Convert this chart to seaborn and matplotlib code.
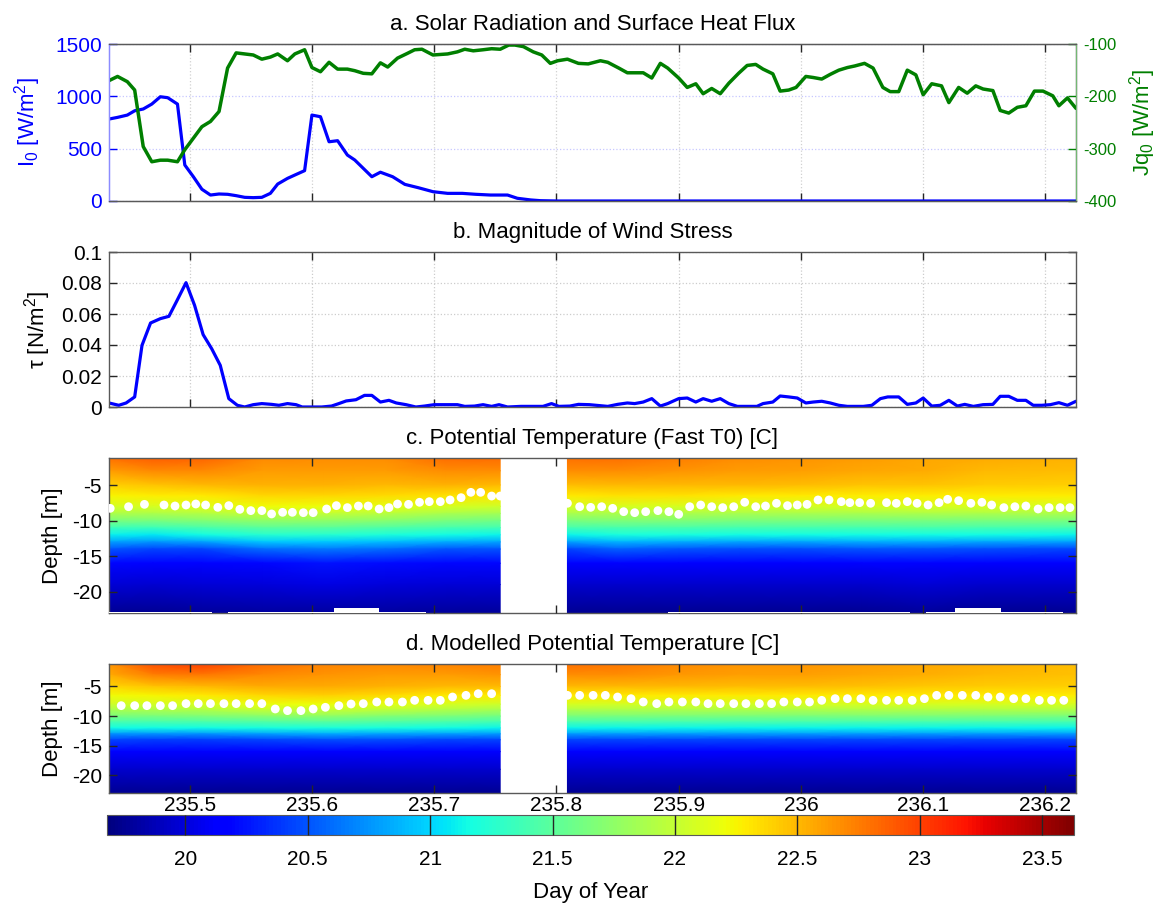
import numpy as np
import matplotlib
matplotlib.use('Agg')
import matplotlib.pyplot as plt
import seaborn as sns

# ---------------- data ----------------
# a. Solar radiation I0 [W/m2]
t_I0 = [235.434, 235.441, 235.449, 235.455, 235.462, 235.469, 235.476, 235.482, 235.490, 235.496,
        235.503, 235.510, 235.517, 235.524, 235.531, 235.538, 235.545, 235.552, 235.559, 235.566,
        235.572, 235.580, 235.586, 235.594, 235.600, 235.607, 235.614, 235.621, 235.629, 235.635,
        235.642, 235.649, 235.656, 235.666, 235.676, 235.687, 235.699, 235.711, 235.723, 235.734,
        235.746, 235.760, 235.768, 235.779, 235.787, 235.801, 236.225]
I0 = [783, 799, 821, 862, 879, 926, 996, 987, 926, 344,
      232, 112, 57, 67, 64, 51, 35, 32, 35, 73,
      162, 216, 248, 290, 821, 805, 566, 576, 439, 392,
      312, 232, 275, 232, 159, 127, 89, 73, 73, 64,
      57, 57, 26, 10, 3, 0, 0]

# a. Surface heat flux Jq0 [W/m2]
t_Jq = [235.434, 235.441, 235.449, 235.455, 235.462, 235.469, 235.476, 235.482, 235.490, 235.496,
        235.503, 235.510, 235.517, 235.524, 235.531, 235.538, 235.545, 235.552, 235.559, 235.566,
        235.572, 235.580, 235.586, 235.594, 235.600, 235.607, 235.614, 235.621, 235.629, 235.635,
        235.642, 235.649, 235.656, 235.662, 235.670, 235.678, 235.684, 235.690, 235.699, 235.711,
        235.719, 235.725, 235.732, 235.740, 235.747, 235.754, 235.761, 235.766, 235.773, 235.781,
        235.788, 235.795, 235.801, 235.809, 235.818, 235.826, 235.836, 235.842, 235.851, 235.858,
        235.871, 235.878, 235.885, 235.891, 235.900, 235.907, 235.914, 235.920, 235.927, 235.934,
        235.941, 235.949, 235.956, 235.963, 235.969, 235.977, 235.983, 235.990, 235.996, 236.004,
        236.010, 236.017, 236.024, 236.031, 236.038, 236.044, 236.052, 236.059, 236.067, 236.073,
        236.080, 236.087, 236.094, 236.100, 236.107, 236.115, 236.121, 236.129, 236.136, 236.143,
        236.149, 236.157, 236.163, 236.170, 236.177, 236.184, 236.191, 236.198, 236.206, 236.211,
        236.218, 236.225]
Jq0 = [-170, -162, -172, -188, -296, -325, -322, -322, -325, -302,
       -280, -258, -248, -229, -146, -117, -119, -121, -129, -125,
       -119, -132, -119, -111, -145, -153, -135, -148, -148, -151,
       -156, -157, -136, -144, -127, -118, -111, -110, -121, -119,
       -115, -110, -113, -111, -109, -110, -102, -102, -105, -115,
       -121, -137, -132, -129, -137, -138, -132, -135, -146, -155,
       -155, -165, -137, -146, -165, -183, -176, -195, -185, -195,
       -175, -156, -141, -139, -148, -157, -190, -188, -183, -162,
       -164, -167, -158, -150, -145, -142, -137, -146, -183, -191,
       -191, -150, -159, -197, -176, -180, -212, -183, -194, -180,
       -186, -189, -227, -232, -221, -218, -190, -190, -199, -218,
       -203, -223]

# b. Wind stress magnitude [N/m2]
t_tau = [235.434, 235.442, 235.448, 235.455, 235.461, 235.468, 235.476, 235.483, 235.489, 235.497,
         235.504, 235.511, 235.518, 235.525, 235.532, 235.539, 235.545, 235.552, 235.559, 235.567,
         235.573, 235.580, 235.587, 235.592, 235.600, 235.608, 235.616, 235.622, 235.628, 235.636,
         235.643, 235.649, 235.656, 235.663, 235.669, 235.677, 235.685, 235.692, 235.700, 235.708,
         235.719, 235.725, 235.733, 235.740, 235.747, 235.753, 235.760, 235.771, 235.783, 235.789,
         235.796, 235.802, 235.811, 235.818, 235.827, 235.842, 235.850, 235.858, 235.864, 235.871,
         235.878, 235.885, 235.891, 235.900, 235.907, 235.914, 235.920, 235.927, 235.934, 235.941,
         235.948, 235.956, 235.964, 235.969, 235.977, 235.983, 235.990, 235.997, 236.004, 236.010,
         236.017, 236.024, 236.031, 236.038, 236.044, 236.051, 236.058, 236.065, 236.071, 236.080,
         236.087, 236.094, 236.100, 236.107, 236.114, 236.121, 236.128, 236.134, 236.141, 236.149,
         236.157, 236.163, 236.170, 236.177, 236.184, 236.190, 236.197, 236.204, 236.211, 236.218,
         236.225]
tau = [0.0026, 0.0011, 0.0026, 0.0065, 0.0398, 0.0542, 0.0570, 0.0585, 0.0677, 0.0802,
       0.0656, 0.0467, 0.0376, 0.0269, 0.0054, 0.0011, 0.0000, 0.0015, 0.0022, 0.0017,
       0.0011, 0.0022, 0.0015, 0.0000, 0.0000, 0.0000, 0.0006, 0.0022, 0.0039, 0.0047,
       0.0075, 0.0075, 0.0032, 0.0043, 0.0026, 0.0015, 0.0000, 0.0006, 0.0015, 0.0015,
       0.0015, 0.0004, 0.0006, 0.0015, 0.0004, 0.0015, 0.0000, 0.0004, 0.0004, 0.0004,
       0.0022, 0.0004, 0.0006, 0.0017, 0.0015, 0.0004, 0.0017, 0.0026, 0.0022, 0.0032,
       0.0054, 0.0006, 0.0022, 0.0054, 0.0058, 0.0032, 0.0054, 0.0037, 0.0054, 0.0022,
       0.0004, 0.0004, 0.0004, 0.0022, 0.0032, 0.0071, 0.0065, 0.0058, 0.0026, 0.0032,
       0.0037, 0.0026, 0.0011, 0.0004, 0.0004, 0.0004, 0.0011, 0.0054, 0.0065, 0.0065,
       0.0017, 0.0026, 0.0058, 0.0006, 0.0011, 0.0043, 0.0006, 0.0017, 0.0004, 0.0015,
       0.0017, 0.0069, 0.0069, 0.0043, 0.0043, 0.0011, 0.0011, 0.0015, 0.0028, 0.0011,
       0.0037]

# c/d. Temperature sections: depth levels [m], two time segments (gap between them)
z_lev = [-1.2, -3, -5, -6.5, -8, -9, -10, -11, -12, -13, -14, -16, -19, -23]
t_seg1 = [235.434, 235.47, 235.51, 235.56, 235.61, 235.66, 235.71, 235.754]
t_seg2 = [235.809, 235.85, 235.90, 235.95, 236.00, 236.05, 236.10, 236.15, 236.225]

# observed (Fast T0) profiles, one list per time (top -> bottom)
obs_seg1 = [
    [22.80, 22.62, 22.40, 22.25, 22.08, 21.90, 21.65, 21.35, 21.10, 20.80, 20.50, 20.20, 19.98, 19.75],
    [22.88, 22.70, 22.45, 22.28, 22.10, 21.90, 21.65, 21.35, 21.08, 20.75, 20.45, 20.18, 19.96, 19.75],
    [22.85, 22.70, 22.50, 22.30, 22.12, 21.92, 21.70, 21.42, 21.15, 20.80, 20.45, 20.18, 19.98, 19.78],
    [22.70, 22.62, 22.52, 22.38, 22.22, 22.00, 21.75, 21.50, 21.25, 20.95, 20.60, 20.20, 20.00, 19.80],
    [22.68, 22.62, 22.52, 22.38, 22.20, 22.00, 21.75, 21.50, 21.25, 20.95, 20.65, 20.25, 20.02, 19.80],
    [22.68, 22.62, 22.50, 22.35, 22.15, 21.95, 21.72, 21.45, 21.20, 20.90, 20.60, 20.22, 20.00, 19.80],
    [22.82, 22.68, 22.52, 22.32, 22.10, 21.88, 21.65, 21.40, 21.15, 20.85, 20.50, 20.20, 19.98, 19.78],
    [22.82, 22.68, 22.50, 22.30, 22.05, 21.85, 21.62, 21.38, 21.12, 20.82, 20.50, 20.20, 19.98, 19.78],
]
obs_seg2 = [
    [22.80, 22.68, 22.48, 22.30, 22.08, 21.88, 21.65, 21.40, 21.12, 20.80, 20.45, 20.15, 19.95, 19.75],
    [22.80, 22.68, 22.50, 22.32, 22.10, 21.90, 21.68, 21.42, 21.18, 20.88, 20.55, 20.18, 19.95, 19.75],
    [22.75, 22.65, 22.50, 22.32, 22.10, 21.90, 21.68, 21.42, 21.18, 20.85, 20.50, 20.15, 19.95, 19.75],
    [22.68, 22.62, 22.50, 22.30, 22.08, 21.88, 21.65, 21.40, 21.15, 20.82, 20.48, 20.15, 19.95, 19.75],
    [22.65, 22.60, 22.48, 22.30, 22.08, 21.88, 21.65, 21.40, 21.15, 20.82, 20.48, 20.15, 19.95, 19.75],
    [22.62, 22.58, 22.45, 22.28, 22.08, 21.88, 21.65, 21.40, 21.15, 20.85, 20.50, 20.18, 19.95, 19.75],
    [22.58, 22.55, 22.45, 22.28, 22.10, 21.90, 21.65, 21.42, 21.15, 20.85, 20.50, 20.18, 19.98, 19.78],
    [22.55, 22.50, 22.42, 22.28, 22.10, 21.90, 21.65, 21.40, 21.15, 20.82, 20.48, 20.15, 19.95, 19.75],
    [22.52, 22.48, 22.40, 22.28, 22.10, 21.90, 21.65, 21.40, 21.12, 20.80, 20.45, 20.15, 19.95, 19.75],
]
# modelled profiles
mod_seg1 = [
    [22.65, 22.55, 22.38, 22.22, 22.05, 21.85, 21.65, 21.40, 21.15, 20.75, 20.45, 20.15, 19.95, 19.75],
    [22.95, 22.75, 22.45, 22.25, 22.08, 21.88, 21.65, 21.40, 21.15, 20.75, 20.42, 20.15, 19.95, 19.75],
    [23.00, 22.78, 22.50, 22.30, 22.10, 21.90, 21.68, 21.42, 21.15, 20.75, 20.42, 20.15, 19.95, 19.75],
    [22.82, 22.70, 22.55, 22.38, 22.18, 21.98, 21.72, 21.45, 21.18, 20.80, 20.45, 20.15, 19.95, 19.75],
    [22.72, 22.65, 22.55, 22.40, 22.20, 22.00, 21.75, 21.48, 21.20, 20.85, 20.48, 20.15, 19.95, 19.75],
    [22.70, 22.62, 22.52, 22.35, 22.15, 21.95, 21.70, 21.45, 21.18, 20.82, 20.47, 20.15, 19.95, 19.75],
    [22.72, 22.62, 22.50, 22.30, 22.10, 21.90, 21.67, 21.42, 21.15, 20.80, 20.45, 20.15, 19.95, 19.75],
    [22.75, 22.65, 22.50, 22.28, 22.05, 21.85, 21.62, 21.38, 21.12, 20.78, 20.45, 20.15, 19.95, 19.75],
]
mod_seg2 = [
    [22.80, 22.68, 22.50, 22.30, 22.10, 21.88, 21.65, 21.40, 21.12, 20.78, 20.45, 20.15, 19.95, 19.75],
    [22.78, 22.68, 22.50, 22.30, 22.08, 21.88, 21.65, 21.40, 21.12, 20.78, 20.45, 20.15, 19.95, 19.75],
    [22.70, 22.64, 22.50, 22.30, 22.08, 21.88, 21.65, 21.40, 21.12, 20.78, 20.45, 20.15, 19.95, 19.75],
    [22.65, 22.60, 22.48, 22.30, 22.08, 21.88, 21.65, 21.40, 21.12, 20.78, 20.45, 20.15, 19.95, 19.75],
    [22.65, 22.60, 22.48, 22.30, 22.08, 21.88, 21.65, 21.40, 21.12, 20.78, 20.45, 20.15, 19.95, 19.75],
    [22.62, 22.58, 22.46, 22.30, 22.10, 21.90, 21.66, 21.40, 21.12, 20.78, 20.45, 20.15, 19.95, 19.75],
    [22.58, 22.54, 22.44, 22.30, 22.10, 21.90, 21.66, 21.40, 21.12, 20.78, 20.45, 20.15, 19.95, 19.75],
    [22.54, 22.50, 22.42, 22.28, 22.10, 21.90, 21.66, 21.40, 21.12, 20.78, 20.45, 20.15, 19.95, 19.75],
    [22.48, 22.46, 22.40, 22.28, 22.10, 21.90, 21.65, 21.40, 21.12, 20.78, 20.45, 20.15, 19.95, 19.75],
]

# missing bottom data in panel c (time spans and deepest valid depth)
c_miss_t0 = [235.434, 235.531, 235.618, 235.655, 235.891, 236.102, 236.126, 236.164]
c_miss_t1 = [235.518, 235.618, 235.655, 235.693, 236.089, 236.126, 236.164, 236.214]
c_miss_z = [-22.8, -22.8, -22.3, -22.8, -22.8, -22.8, -22.3, -22.8]

# mixed-layer depth markers, observed
t_mld_c = [235.435, 235.450, 235.463, 235.479, 235.488, 235.497, 235.505, 235.513, 235.523, 235.532,
           235.541, 235.550, 235.559, 235.567, 235.576, 235.584, 235.593, 235.601, 235.612, 235.620,
           235.629, 235.638, 235.646, 235.655, 235.663, 235.670, 235.679, 235.688, 235.696, 235.705,
           235.713, 235.722, 235.730, 235.738, 235.747, 235.754,
           235.809, 235.819, 235.828, 235.837, 235.846, 235.855, 235.864, 235.873, 235.883, 235.892,
           235.900, 235.909, 235.918, 235.927, 235.936, 235.945, 235.954, 235.963, 235.971, 235.980,
           235.989, 235.997, 236.005, 236.014, 236.023, 236.033, 236.040, 236.048, 236.057, 236.070,
           236.078, 236.087, 236.095, 236.104, 236.113, 236.120, 236.129, 236.139, 236.148, 236.156,
           236.166, 236.175, 236.184, 236.194, 236.203, 236.212, 236.220]
mld_c = [-8.28, -8.05, -7.72, -7.81, -7.95, -7.81, -7.67, -7.81, -8.14, -7.90,
         -8.42, -8.60, -8.60, -9.07, -8.84, -8.84, -8.89, -8.89, -8.37, -7.90,
         -8.18, -7.95, -7.95, -8.37, -8.18, -7.67, -7.72, -7.43, -7.34, -7.34,
         -7.10, -6.78, -6.03, -6.03, -6.55, -6.55,
         -7.57, -8.05, -8.14, -8.05, -8.28, -8.75, -8.89, -8.75, -8.60, -8.75,
         -9.12, -8.05, -7.81, -8.05, -8.18, -8.05, -7.43, -8.05, -7.95, -7.57,
         -7.90, -7.81, -7.72, -7.10, -7.10, -7.34, -7.48, -7.48, -7.57, -7.48,
         -7.57, -7.34, -7.57, -7.81, -7.48, -7.01, -7.20, -7.57, -7.43, -7.81,
         -8.18, -8.05, -7.95, -8.37, -8.18, -8.18, -8.18]

# mixed-layer depth markers, modelled
t_mld_d = [235.444, 235.455, 235.465, 235.476, 235.486, 235.497, 235.507, 235.517, 235.528, 235.538,
           235.549, 235.559, 235.570, 235.580, 235.591, 235.601, 235.611, 235.622, 235.632, 235.642,
           235.653, 235.663, 235.674, 235.684, 235.695, 235.705, 235.715, 235.726, 235.736, 235.747,
           235.809, 235.819, 235.830, 235.840, 235.850, 235.861, 235.871, 235.882, 235.892, 235.903,
           235.914, 235.924, 235.934, 235.945, 235.955, 235.966, 235.976, 235.986, 235.997, 236.007,
           236.017, 236.028, 236.038, 236.049, 236.059, 236.070, 236.080, 236.091, 236.101, 236.111,
           236.121, 236.132, 236.143, 236.153, 236.163, 236.174, 236.184, 236.195, 236.205, 236.215]
mld_d = [-8.24, -8.24, -8.24, -8.24, -8.24, -7.90, -7.90, -7.90, -7.90, -7.90,
         -7.90, -7.90, -8.80, -9.08, -9.08, -8.80, -8.52, -8.24, -7.96, -7.90,
         -7.62, -7.62, -7.62, -7.34, -7.34, -7.34, -6.78, -6.50, -6.22, -6.22,
         -6.50, -6.50, -6.50, -6.50, -6.78, -7.06, -7.62, -7.90, -7.62, -7.62,
         -7.62, -7.90, -7.90, -7.90, -7.90, -7.90, -7.90, -7.62, -7.62, -7.62,
         -7.34, -7.06, -7.06, -7.06, -7.34, -7.34, -7.34, -7.34, -7.06, -6.50,
         -6.50, -6.50, -6.50, -6.78, -6.78, -7.06, -7.06, -7.34, -7.34, -7.34]

x_ticks = [235.5, 235.6, 235.7, 235.8, 235.9, 236.0, 236.1, 236.2]
x_ticklabels = ['235.5', '235.6', '235.7', '235.8', '235.9', '236', '236.1', '236.2']
cb_ticks = [20, 20.5, 21, 21.5, 22, 22.5, 23, 23.5]
cb_ticklabels = ['20', '20.5', '21', '21.5', '22', '22.5', '23', '23.5']
tau_ticks = [0, 0.02, 0.04, 0.06, 0.08, 0.1]
tau_ticklabels = ['0', '0.02', '0.04', '0.06', '0.08', '0.1']
depth_ticks = [-20, -15, -10, -5]
depth_ticklabels = ['-20', '-15', '-10', '-5']
I0_ticks = [0, 500, 1000, 1500]
Jq_ticks = [-400, -300, -200, -100]
Jq_ticklabels = ['-400', '-300', '-200', '-100']

# ---------------- style ----------------
sns.set_style('ticks')
plt.rcParams['font.family'] = ['Liberation Sans', 'DejaVu Sans']
plt.rcParams['mathtext.default'] = 'regular'
plt.rcParams['axes.unicode_minus'] = False
for k in ('text.color', 'axes.labelcolor', 'xtick.color', 'ytick.color'):
    plt.rcParams[k] = 'black'

XLIM = (235.434, 236.225)
ZLIM = (-23, -1.2)
VMIN, VMAX = 19.68, 23.63
BLUE = '#0000ff'
GREEN = '#007f00'
FRAME = '0.35'
TICKC = '0.15'

W, H = 1165, 907
fig = plt.figure(figsize=(W / 100, H / 100), dpi=100)


def rect(l, t, r, b):
    return [l / W, 1 - b / H, (r - l) / W, (b - t) / H]


axA = fig.add_axes(rect(109, 44, 1076, 201))
axB = fig.add_axes(rect(109, 252, 1076, 407))
axC = fig.add_axes(rect(109, 458, 1076, 613))
axD = fig.add_axes(rect(109, 664, 1076, 793))
cax = fig.add_axes(rect(107, 815, 1074, 835))


def base_style(ax):
    ax.set_xlim(*XLIM)
    ax.set_xticks(x_ticks)
    for s in ax.spines.values():
        s.set_visible(True)
        s.set_color(FRAME)
        s.set_linewidth(1.0)
    ax.tick_params(direction='in', length=6, width=1.0, color=TICKC,
                   top=True, bottom=True, left=True, right=True,
                   labelsize=15, pad=5, labelcolor='black')


# ---- panel a ----
base_style(axA)
sns.lineplot(x=t_I0, y=I0, ax=axA, color=BLUE, lw=2.3, estimator=None, sort=False)
axA.set_ylim(0, 1500)
axA.set_yticks(I0_ticks)
axA.set_xticklabels([])
axA.tick_params(axis='y', color=BLUE, labelcolor=BLUE, right=False, labelsize=15)
axA.grid(True, axis='x', ls=':', color='0.82', lw=0.9)
axA.grid(True, axis='y', ls=':', color=(0.78, 0.78, 1.0), lw=0.9)
axA.spines['left'].set_color((0.55, 0.55, 1.0))
axA.set_ylabel('I$_0$ [W/m$^2$]', fontsize=16, color=BLUE, labelpad=9)
axA.set_title('a. Solar Radiation and Surface Heat Flux', fontsize=16, pad=10)

axA2 = axA.twinx()
axA2.set_xlim(*XLIM)
sns.lineplot(x=t_Jq, y=Jq0, ax=axA2, color=GREEN, lw=2.5, estimator=None, sort=False)
axA2.set_ylim(-400, -100)
axA2.set_yticks(Jq_ticks)
axA2.set_yticklabels(Jq_ticklabels)
for s in axA2.spines.values():
    s.set_visible(True)
    s.set_color(FRAME)
axA2.spines['left'].set_color((0.55, 0.55, 1.0))
axA2.spines['right'].set_color((0.45, 0.72, 0.45))
axA2.tick_params(axis='y', direction='in', length=6, width=1.0, color=GREEN,
                 labelcolor=GREEN, right=True, left=False, labelsize=12, pad=5)
axA2.set_ylabel('Jq$_0$ [W/m$^2$]', fontsize=16, color=GREEN, labelpad=8)

# ---- panel b ----
base_style(axB)
sns.lineplot(x=t_tau, y=tau, ax=axB, color=BLUE, lw=2.3, estimator=None, sort=False)
axB.set_ylim(0, 0.1)
axB.set_yticks(tau_ticks)
axB.set_yticklabels(tau_ticklabels)
axB.set_xticklabels([])
axB.grid(True, ls=':', color='0.8', lw=0.9)
axB.set_ylabel('τ [N/m$^2$]', fontsize=16, labelpad=6)
axB.set_title('b. Magnitude of Wind Stress', fontsize=16, pad=10)


# ---- panels c & d ----
def section(ax, seg1, seg2, t_mld, mld, title):
    base_style(ax)
    ax.set_axisbelow(False)
    mesh = None
    for tt, cols in ((t_seg1, seg1), (t_seg2, seg2)):
        T, Z = np.meshgrid(tt, z_lev)
        C = np.array(cols).T
        mesh = ax.pcolormesh(T, Z, C, shading='gouraud', cmap='jet',
                             vmin=VMIN, vmax=VMAX, zorder=1)
    sns.scatterplot(x=t_mld, y=mld, ax=ax, color='white', s=40,
                    edgecolor='none', linewidth=0, zorder=5)
    ax.set_ylim(*ZLIM)
    ax.set_yticks(depth_ticks)
    ax.set_yticklabels(depth_ticklabels)
    ax.set_ylabel('Depth [m]', fontsize=16, labelpad=6)
    ax.set_title(title, fontsize=16, pad=10)
    ax.grid(False)
    return mesh


mesh = section(axC, obs_seg1, obs_seg2, t_mld_c, mld_c,
               'c. Potential Temperature (Fast T0) [C]')
for a0, a1, zb in zip(c_miss_t0, c_miss_t1, c_miss_z):
    axC.fill_between([a0, a1], [zb, zb], ZLIM[0], color='white', lw=0, zorder=3)
axC.set_xticklabels([])

section(axD, mod_seg1, mod_seg2, t_mld_d, mld_d,
        'd. Modelled Potential Temperature [C]')
axD.set_xticklabels(x_ticklabels)
axD.tick_params(axis='x', pad=2)

for ax in (axA, axB, axC, axD):
    ax.set_xlim(*XLIM)

# ---- colorbar ----
cb = fig.colorbar(mesh, cax=cax, orientation='horizontal', ticks=cb_ticks)
cb.set_ticklabels(cb_ticklabels)
cb.outline.set_edgecolor(FRAME)
cax.set_axisbelow(False)
cax.tick_params(direction='in', length=14.5, width=1.0, color=TICKC,
                bottom=True, labelsize=15, pad=11, labelcolor='black')
cax.set_xlabel('Day of Year', fontsize=16, labelpad=9)

fig.savefig('out.png', dpi=100)
